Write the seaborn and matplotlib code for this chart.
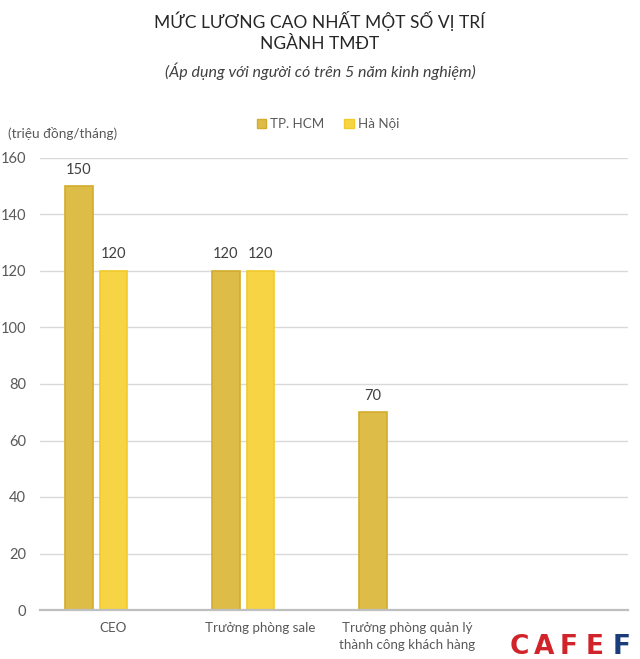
import matplotlib
matplotlib.use("Agg")
import matplotlib.pyplot as plt
import seaborn as sns
import pandas as pd
from matplotlib.patches import Patch

categories = ["CEO", "Trưởng phòng sale", "Trưởng phòng quản lý\nthành công khách hàng", " "]
series = ["TP. HCM", "Hà Nội", "_blank"]
hcm_values = [150, 120, 70]
hn_values = [120, 120]
yticks = [0, 20, 40, 60, 80, 100, 120, 140, 160]

colors = {"TP. HCM": "#DEBC48", "Hà Nội": "#F6D443", "_blank": "#ffffff"}
edges = {"TP. HCM": "#D3AC2C", "Hà Nội": "#F2CB2A"}

rows = []
for c, v in zip(categories, hcm_values):
    rows.append({"cat": c, "series": "TP. HCM", "value": v})
for c, v in zip(categories, hn_values):
    rows.append({"cat": c, "series": "Hà Nội", "value": v})
df = pd.DataFrame(rows)

sns.set_theme(style="white")
plt.rcParams["font.family"] = ["Lato", "DejaVu Sans"]

fig = plt.figure(figsize=(6.4, 6.59), dpi=100)
ax = fig.add_axes([40/640, 1-610/659, 588/640, (610-158)/659])

sns.barplot(data=df, x="cat", y="value", hue="series", order=categories,
            hue_order=series, palette=colors, width=0.714, gap=0.2,
            legend=False, ax=ax, errorbar=None, saturation=1)

for container, s in zip(ax.containers, ["TP. HCM", "Hà Nội"]):
    for bar in container:
        bar.set_edgecolor(edges[s])
        bar.set_linewidth(1.2)
    ax.bar_label(container, fmt="%g", padding=7, fontsize=10.5, color="#404040")

ax.set_xlim(-0.5, 3.5)
ax.set_ylim(0, 160)
ax.set_yticks(yticks)
ax.grid(axis="y", color="#D9D9D9", linewidth=1)
ax.set_axisbelow(True)
for sp in ["top", "right", "left"]:
    ax.spines[sp].set_visible(False)
ax.spines["bottom"].set_color("#BFBFBF")
ax.spines["bottom"].set_linewidth(1.6)
ax.tick_params(axis="y", length=0, labelsize=10.5, labelcolor="#595959", pad=10)
ax.tick_params(axis="x", length=0, labelsize=9.6, labelcolor="#595959", pad=9)
for lbl in ax.get_xticklabels():
    lbl.set_linespacing(1.45)
ax.set_xlabel("")
ax.set_ylabel("")

fig.text(8/640, 1-133/659, "(triệu đồng/tháng)", fontsize=9.8, color="#595959",
         ha="left", va="center")

handles = [Patch(facecolor=colors[s], edgecolor=edges[s]) for s in ["TP. HCM", "Hà Nội"]]
fig.legend(handles, ["TP. HCM", "Hà Nội"], loc="center", bbox_to_anchor=(328/640, 1-124/659),
           ncol=2, frameon=False, fontsize=9.6, handlelength=0.7, handleheight=0.7,
           handletextpad=0.3, columnspacing=1.5, labelcolor="#595959")

fig.text(0.5, 1-21/659, "MỨC LƯƠNG CAO NHẤT MỘT SỐ VỊ TRÍ", fontsize=12.5, color="#262626",
         ha="center", va="center")
fig.text(0.5, 1-44/659, "NGÀNH TMĐT", fontsize=12.5, color="#262626",
         ha="center", va="center")
fig.text(0.5, 1-71/659, "(Áp dụng với người có trên 5 năm kinh nghiệm)", fontsize=11.5,
         color="#404040", ha="center", va="center", style="italic")

logo_letters = ["C", "A", "F", "E", "F"]
logo_colors = ["#D0232A", "#D0232A", "#D0232A", "#D0232A", "#1B3C7A"]
logo_x = [519, 544, 569, 595, 622]
for ch, col, x in zip(logo_letters, logo_colors, logo_x):
    fig.text(x/640, 1-647/659, ch, fontsize=19, color=col, ha="center", va="center",
             weight="heavy", family=["DejaVu Sans"])

fig.savefig("out.png", dpi=100)
